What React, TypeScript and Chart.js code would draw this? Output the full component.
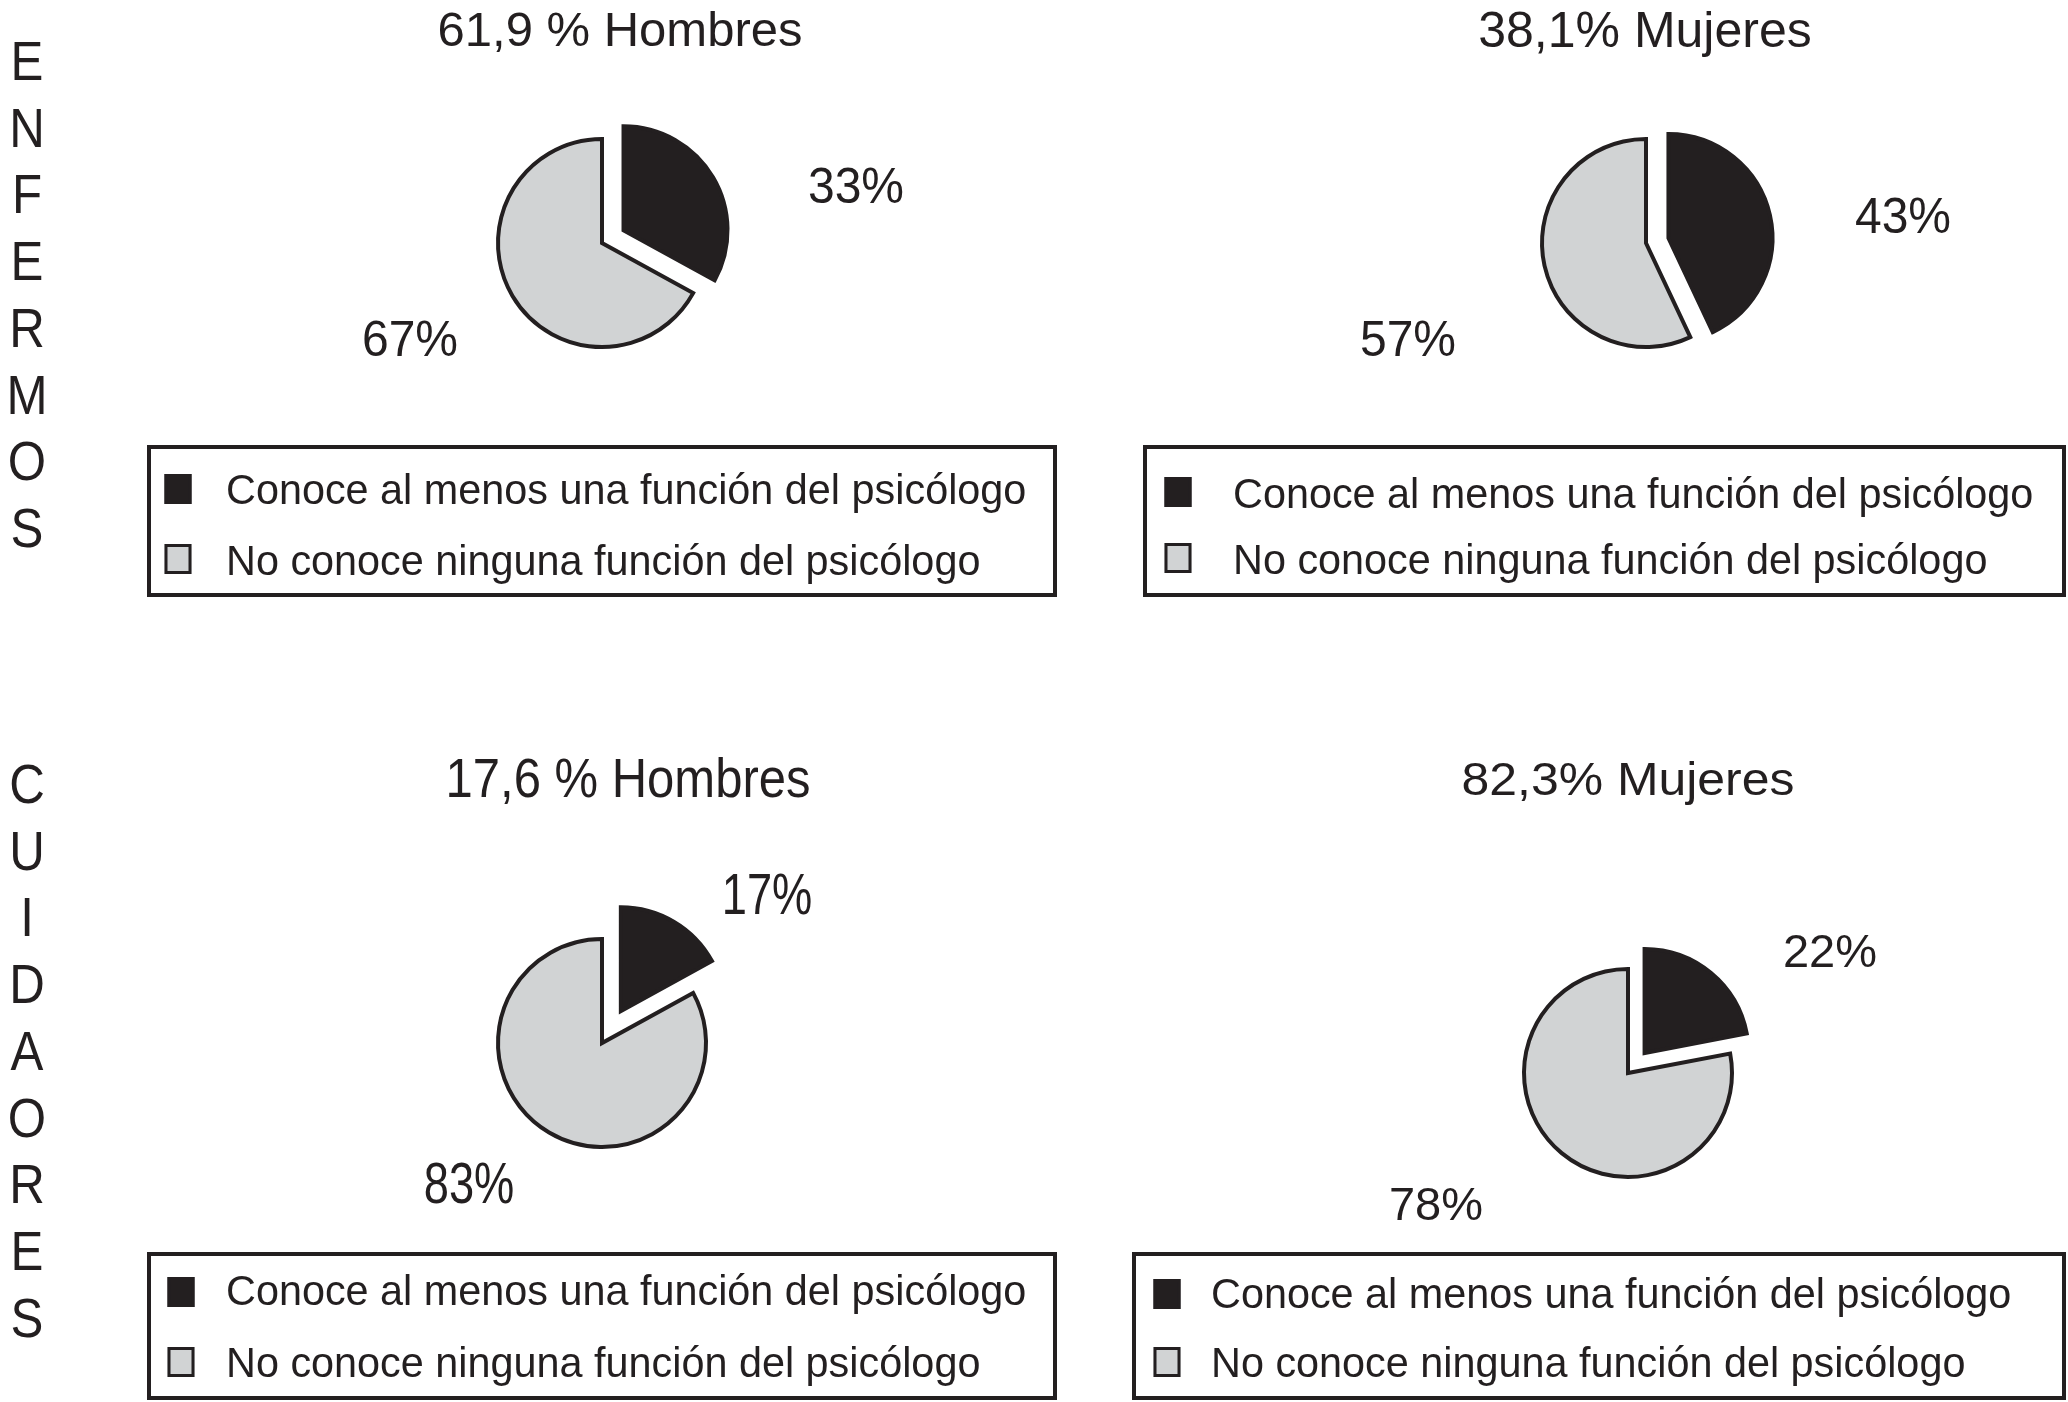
import React, { useEffect, useRef } from 'react';
import { Chart, registerables } from 'chart.js';

Chart.register(...registerables);

// ---------- data ----------
const categories = [
  'Conoce al menos una función del psicólogo',
  'No conoce ninguna función del psicólogo',
];
const enfermosHombres = [33, 67];
const enfermosMujeres = [43, 57];
const cuidadoresHombres = [17, 83];
const cuidadoresMujeres = [22, 78];
const panelTitles = ['61,9 % Hombres', '38,1% Mujeres', '17,6 % Hombres', '82,3% Mujeres'];
// vertical row labels exactly as printed in the original figure
const groupLabels = ['ENFERMOS', 'CUIDAORES'];
const panelValues = [enfermosHombres, enfermosMujeres, cuidadoresHombres, cuidadoresMujeres];

// ---------- styles / layout ----------
const INK = '#231f20';
const GREY = '#d1d3d4';
const sliceColors = [INK, GREY];
const W = 2068;
const H = 1402;
const FONT = '"Liberation Sans", Arial, Helvetica, sans-serif';
const PIE_RADIUS = 104;

type TextStyle = { size: number; sx: number; sy: number };

const legendStyle: TextStyle = { size: 42, sx: 0.985, sy: 1 };
const groupStyle: TextStyle = { size: 56, sx: 0.88, sy: 1 };

const groupLayouts = [
  { panel: 0, x: 27, y0: 60, step: 66.7 },
  { panel: 2, x: 27, y0: 783, step: 66.7 },
];

const panelLayouts = [
  {
    cx: 602, cy: 243, explode: 25,
    title: { x: 620, y: 46, style: { size: 49, sx: 1, sy: 1 } },
    labelStyle: { size: 48, sx: 1, sy: 1.05 },
    labelOffsets: [[254, -40], [-192, 113]],
    legend: { x: 149, y: 447, w: 906, h: 148, markerX: 178, textX: 226, rows: [489, 559], baselines: [504, 575] },
  },
  {
    cx: 1646, cy: 243, explode: 23,
    title: { x: 1645, y: 47, style: { size: 50, sx: 1, sy: 1 } },
    labelStyle: { size: 48, sx: 1, sy: 1.05 },
    labelOffsets: [[257, -10], [-238, 113]],
    legend: { x: 1145, y: 447, w: 919, h: 148, markerX: 1178, textX: 1233, rows: [492, 558], baselines: [508, 574] },
  },
  {
    cx: 602, cy: 1043, explode: 37,
    title: { x: 628, y: 797, style: { size: 56, sx: 0.875, sy: 1 } },
    labelStyle: { size: 58, sx: 0.78, sy: 1 },
    labelOffsets: [[165, -129], [-133, 160]],
    legend: { x: 149, y: 1254, w: 906, h: 144, markerX: 181, textX: 226, rows: [1292, 1362], baselines: [1305, 1377] },
  },
  {
    cx: 1628, cy: 1073, explode: 26,
    title: { x: 1628, y: 795, style: { size: 46, sx: 1.085, sy: 1 } },
    labelStyle: { size: 47, sx: 1, sy: 1 },
    labelOffsets: [[202, -106], [-192, 147]],
    legend: { x: 1134, y: 1254, w: 930, h: 144, markerX: 1167, textX: 1211, rows: [1294, 1362], baselines: [1308, 1377] },
  },
];

function drawText(
  ctx: CanvasRenderingContext2D,
  text: string,
  x: number,
  y: number,
  st: TextStyle,
  align: CanvasTextAlign = 'center'
) {
  ctx.save();
  ctx.translate(x, y);
  ctx.scale(st.sx, st.sy);
  ctx.font = `${st.size}px ${FONT}`;
  ctx.textAlign = align;
  ctx.textBaseline = 'alphabetic';
  ctx.fillStyle = INK;
  ctx.fillText(text, 0, 0);
  ctx.restore();
}

function makeDecor(panelIndex: number) {
  const L = panelLayouts[panelIndex];
  return {
    id: 'panelDecor' + panelIndex,
    afterDatasetsUpdate(chart: any) {
      // explode the first slice ("Conoce...") outward along its bisector
      const meta = chart.getDatasetMeta(0);
      const arc: any = meta.data[0];
      if (!arc) return;
      const half = (arc.startAngle + arc.endAngle) / 2;
      arc.x += Math.cos(half) * L.explode;
      arc.y += Math.sin(half) * L.explode;
    },
    afterDraw(chart: any) {
      const ctx: CanvasRenderingContext2D = chart.ctx;
      const area = chart.chartArea;
      const cx = (area.left + area.right) / 2;
      const cy = (area.top + area.bottom) / 2;
      const ds = chart.data.datasets[0];

      // title
      drawText(ctx, panelTitles[panelIndex], L.title.x, L.title.y, L.title.style);

      // value labels
      (ds.data as number[]).forEach((v, i) => {
        const [dx, dy] = L.labelOffsets[i];
        drawText(ctx, `${v}%`, cx + dx, cy + dy, L.labelStyle);
      });

      // boxed legend
      const lg = L.legend;
      ctx.save();
      ctx.lineWidth = 4;
      ctx.strokeStyle = INK;
      ctx.strokeRect(lg.x, lg.y, lg.w, lg.h);
      (chart.data.labels as string[]).forEach((lab, i) => {
        const mw = 27;
        const mh = 30;
        const my = lg.rows[i];
        ctx.fillStyle = (ds.backgroundColor as string[])[i];
        ctx.fillRect(lg.markerX - mw / 2, my - mh / 2, mw, mh);
        ctx.lineWidth = 3;
        ctx.strokeStyle = INK;
        ctx.strokeRect(lg.markerX - mw / 2 + 1.5, my - mh / 2 + 1.5, mw - 3, mh - 3);
        drawText(ctx, lab, lg.textX, lg.baselines[i], legendStyle, 'left');
      });
      ctx.restore();

      // vertical group label
      groupLayouts.forEach((g, gi) => {
        if (g.panel !== panelIndex) return;
        const word = groupLabels[gi];
        for (let k = 0; k < word.length; k++) {
          drawText(ctx, word[k], g.x, g.y0 + k * g.step + 20, groupStyle);
        }
      });
    },
  };
}

export default function App() {
  const refs = useRef<(HTMLCanvasElement | null)[]>([]);

  useEffect(() => {
    const charts: Chart[] = [];
    const S = 160;
    panelLayouts.forEach((L, i) => {
      const canvas = refs.current[i];
      if (!canvas) return;
      const chart = new Chart(canvas, {
        type: 'pie',
        data: {
          labels: categories,
          datasets: [
            {
              data: panelValues[i],
              backgroundColor: sliceColors,
              borderColor: INK,
              borderWidth: 4,
              borderJoinStyle: 'miter',
              radius: PIE_RADIUS,
              hoverOffset: 0,
            } as any,
          ],
        },
        options: {
          responsive: false,
          animation: false,
          events: [],
          layout: {
            padding: {
              left: L.cx - S,
              right: W - L.cx - S,
              top: L.cy - S,
              bottom: H - L.cy - S,
            },
          },
          plugins: {
            legend: { display: false },
            tooltip: { enabled: false },
            title: { display: false },
          },
        },
        plugins: [makeDecor(i)],
      });
      charts.push(chart);
    });
    return () => {
      charts.forEach((c) => c.destroy());
    };
  }, []);

  return (
    <div
      style={{
        position: 'absolute',
        left: 0,
        top: 0,
        width: W,
        height: H,
        background: '#ffffff',
        overflow: 'hidden',
      }}
    >
      {panelLayouts.map((_, i) => (
        <canvas
          key={i}
          ref={(el) => {
            refs.current[i] = el;
          }}
          width={W}
          height={H}
          style={{ position: 'absolute', left: 0, top: 0, width: W, height: H }}
        />
      ))}
    </div>
  );
}
